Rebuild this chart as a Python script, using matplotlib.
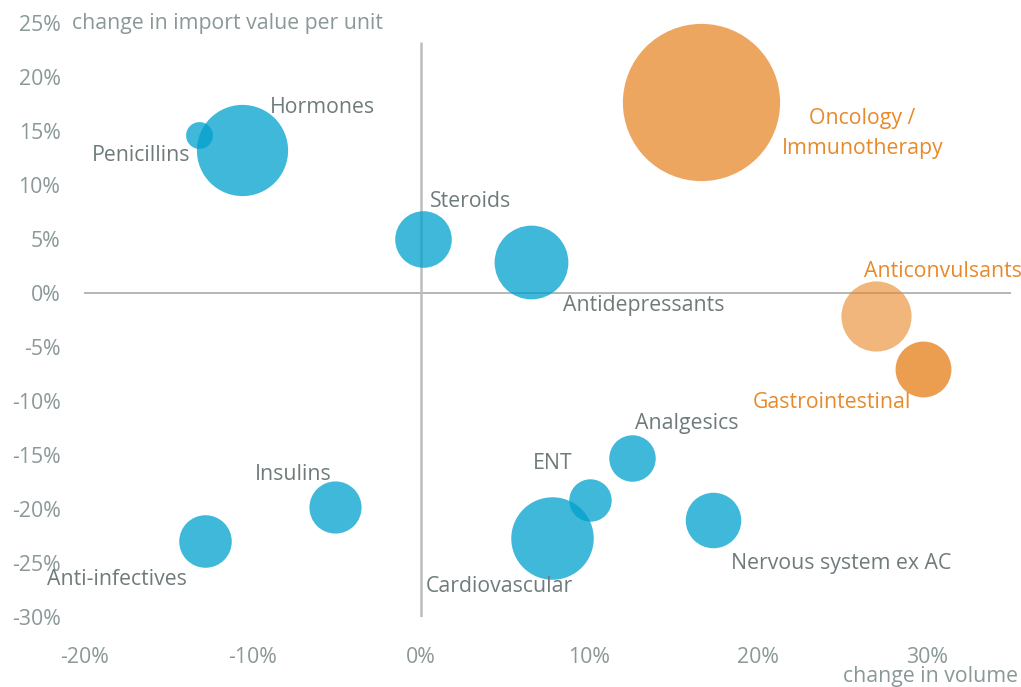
import matplotlib.pyplot as plt
import numpy as np

# Werte (Prozent)
categories = ['Penicillins', 'Hormones', 'Oncology /\nImmunotherapy', 'Anticonvulsants',
              'Gastrointestinal', 'Anti-infectives', 'Insulins', 'Analgesics', 'ENT',
              'Cardiovascular', 'Nervous system ex AC', 'Steroids', 'Antidepressants']
volume_change = [-13.2, -10.6, 16.6, 27.0, 29.8, -12.8, -5.1, 12.5, 10.0, 7.8, 17.3, 0.1, 6.5]
price_change = [14.7, 13.3, 17.7, -2.1, -7.0, -22.9, -19.8, -15.2, -19.1, -22.6, -21.0, 5.0, 2.9]
import_value = [1.8, 20.8, 61.8, 12.3, 7.8, 6.9, 6.8, 5.4, 4.5, 17.0, 7.7, 8.0, 13.6]
group = ['base', 'base', 'hi', 'hi', 'hi', 'base', 'base', 'base', 'base', 'base', 'base', 'base', 'base']

x_ticks = [-20, -10, 0, 10, 20, 30]
y_ticks = [-30, -25, -20, -15, -10, -5, 0, 5, 10, 15, 20, 25]

# Label-Positionen (Datenkoordinaten) und Ausrichtung
label_pos = {
    'Penicillins': (-13.7, 12.8, 'right'),
    'Hormones': (-8.95, 17.2, 'left'),
    'Oncology /\nImmunotherapy': (26.2, 14.8, 'center'),
    'Anticonvulsants': (26.3, 2.0, 'left'),
    'Gastrointestinal': (19.7, -10.1, 'left'),
    'Anti-infectives': (-13.9, -26.5, 'right'),
    'Insulins': (-9.85, -16.8, 'left'),
    'Analgesics': (12.7, -12.0, 'left'),
    'ENT': (6.65, -15.7, 'left'),
    'Cardiovascular': (0.3, -27.1, 'left'),
    'Nervous system ex AC': (18.4, -25.0, 'left'),
    'Steroids': (0.55, 8.5, 'left'),
    'Antidepressants': (8.4, -1.1, 'left'),
}

blue = '#00A0CD'
orange = '#E8892A'
alphas = {'Anticonvulsants': 0.62, 'Gastrointestinal': 0.82}
tick_color = '#8A9898'
text_color = '#6F7B7B'

plt.rcParams['font.family'] = ['Open Sans', 'DejaVu Sans']

fig = plt.figure(figsize=(10.21, 6.87), dpi=100)
ax = fig.add_axes([0.0823, 0.1012, 0.9077, 0.8646])

for name, x, y, v, g in zip(categories, volume_change, price_change, import_value, group):
    col = orange if g == 'hi' else blue
    a = alphas.get(name, 0.75)
    ax.scatter(x, y, s=v * 207.4, color=col, alpha=a, linewidths=0, zorder=3)
    lx, ly, ha = label_pos[name]
    ax.text(lx, ly, name, ha=ha, va='center', fontsize=15.3,
            color=orange if g == 'hi' else text_color,
            linespacing=1.55, clip_on=False, zorder=4)

ax.hlines(0, -20, 35, color='#A9A9A9', linewidth=1.2, zorder=1)
ax.vlines(0, -30, 23.3, color='#BDBDBD', linewidth=1.8, zorder=1)

ax.set_xlim(-20, 35)
ax.set_ylim(-30, 25)
ax.set_xticks(x_ticks)
ax.set_yticks(y_ticks)
ax.set_xticklabels([f'{t}%' for t in x_ticks])
ax.set_yticklabels([f'{t}%' for t in y_ticks])
ax.tick_params(length=0, labelsize=15.3, colors=tick_color)
ax.tick_params(axis='y', pad=17)
ax.tick_params(axis='x', pad=21)
for s in ax.spines.values():
    s.set_visible(False)

ax.text(-20.7, 25, 'change in import value per unit', ha='left', va='center',
        fontsize=15.3, color=tick_color, clip_on=False)
ax.text(35.4, -35.5, 'change in volume', ha='right', va='center',
        fontsize=15.3, color=tick_color, clip_on=False)

fig.savefig('out.png', dpi=100)
